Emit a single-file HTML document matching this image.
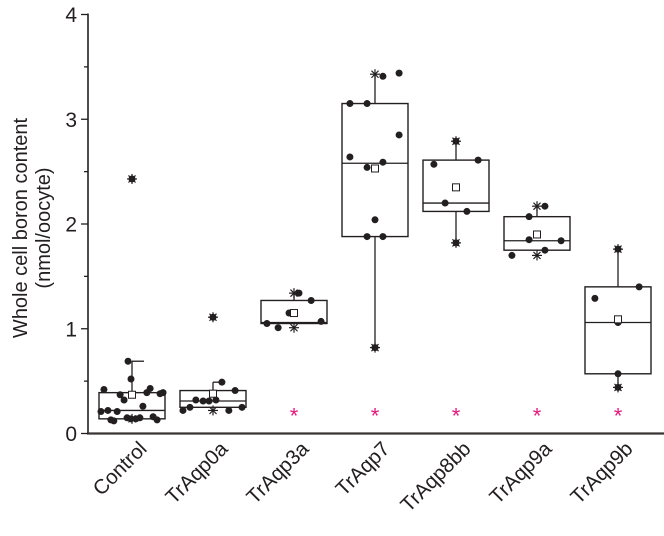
<!DOCTYPE html>
<html><head><meta charset="utf-8"><style>
html,body{margin:0;padding:0;background:#fff;width:664px;height:536px;overflow:hidden}
svg text{font-family:"Liberation Sans",Arial,sans-serif;fill:#231f20}
</style></head><body>
<svg id="chart" width="664" height="536" viewBox="0 0 664 536" xmlns="http://www.w3.org/2000/svg">
<g id="axes"></g>
<g id="plot"></g>
<text transform="translate(27,228) rotate(-90)" text-anchor="middle" font-size="20">Whole cell boron content</text>
<text transform="translate(50,228) rotate(-90)" text-anchor="middle" font-size="20">(nmol/oocyte)</text>
</svg>
<script>
const categories = ["Control","TrAqp0a","TrAqp3a","TrAqp7","TrAqp8bb","TrAqp9a","TrAqp9b"];
const q1 = [0.14,0.25,1.05,1.88,2.12,1.75,0.57];
const median = [0.22,0.31,1.06,2.58,2.20,1.84,1.06];
const q3 = [0.39,0.41,1.27,3.15,2.61,2.07,1.40];
const whiskerLow = [0.14,0.25,1.05,0.82,1.82,1.75,0.44];
const whiskerHigh = [0.69,0.49,1.34,3.43,2.79,2.17,1.76];
const means = [0.37,0.38,1.15,2.53,2.35,1.90,1.09];
const minMarks = [0.14,0.22,1.01,0.82,1.82,1.70,0.44];
const maxMarks = [2.43,1.11,1.34,3.43,2.79,2.17,1.76];
const significant = [false,false,true,true,true,true,true];
const pointValues = [
 [0.42,0.69,0.52,0.37,0.32,0.39,0.43,0.38,0.39,0.26,0.21,0.22,0.21,0.13,0.12,0.15,0.14,0.14,0.15,0.16,0.13,2.43],
 [0.49,0.41,0.32,0.31,0.31,0.32,0.22,0.25,0.22,0.25,1.11],
 [1.34,1.27,1.15,1.05,1.01,1.07],
 [3.41,3.44,3.15,3.15,2.85,2.64,2.54,2.59,2.04,1.88,1.88,0.82],
 [2.57,2.61,2.20,2.12,2.79,1.82],
 [2.17,2.07,1.85,1.84,1.75,1.70],
 [1.29,1.40,1.06,0.57,1.76,0.44]
];
const pointJitter = [
 [-0.85,-0.12,-0.03,-0.36,-0.24,0.45,0.55,0.85,0.94,0.33,-0.94,-0.73,-0.45,-0.64,-0.55,-0.15,-0.03,0.12,0.24,0.64,0.76,0],
 [0.27,0.67,-0.52,-0.3,-0.12,0.09,-0.91,-0.7,0.48,0.88,0],
 [0.15,0.52,-0.15,-0.82,-0.48,0.82],
 [0.24,0.73,-0.76,-0.24,0.73,-0.76,-0.24,0.24,0,-0.24,0.24,0],
 [-0.67,0.67,-0.33,0.33,0,0],
 [0.24,-0.24,-0.24,0.73,0.24,-0.76],
 [-0.7,0.64,0,0,0,0]
];
const yTicks = [0,1,2,3,4];

const NS="http://www.w3.org/2000/svg";
const X0=132, DX=81, HALF=33, Y0=433.5, SY=104.75;
const xScale = i => X0 + i*DX;
const yScale = v => Y0 - v*SY;
const col="#231f20";
function mk(tag, attrs, parent){const e=document.createElementNS(NS,tag);for(const k in attrs)e.setAttribute(k,attrs[k]);parent.appendChild(e);return e;}
const axes=document.getElementById('axes'), plot=document.getElementById('plot');

let el = mk('line',{x1:88,y1:yScale(4)-1,x2:88,y2:Y0+1,stroke:col,'stroke-width':1.6},axes);


el = mk('line',{x1:87,y1:Y0,x2:664,y2:Y0,stroke:"#3a3535",'stroke-width':2.2},axes);


for(let v=0; v<=8; v++){
  const t=v/2, major=(v%2===0);
  el = mk('line',{x1:major?81:84,y1:yScale(t),x2:88,y2:yScale(t),stroke:col,'stroke-width':1.3},axes);
  
  
}
yTicks.forEach(t=>{
  el = mk('text',{x:77,y:yScale(t)+7.5,'text-anchor':'end','font-size':21},axes);
  el.textContent=t;
  
  
});
categories.forEach((c,i)=>{
  const x=xScale(i)+16, y=450;
  el = mk('text',{x:x,y:y,'text-anchor':'end','font-size':20.5,transform:`rotate(-45 ${x} ${y})`},axes);
  el.textContent=c;
  
  
});

function star(g,x,y,r,color,w){
  for(let a=0;a<4;a++){const ang=a*Math.PI/4;
    mk('line',{x1:x-r*Math.cos(ang),y1:y-r*Math.sin(ang),x2:x+r*Math.cos(ang),y2:y+r*Math.sin(ang),stroke:color,'stroke-width':w},g);}
}
categories.forEach((c,i)=>{
  const g=mk('g',{},plot);
  
  
  const x=xScale(i);
  mk('line',{x1:x,y1:yScale(whiskerHigh[i]),x2:x,y2:yScale(q3[i]),stroke:col,'stroke-width':1.3},g);
  mk('line',{x1:x,y1:yScale(whiskerLow[i]),x2:x,y2:yScale(q1[i]),stroke:col,'stroke-width':1.3},g);
  if(i<2) mk('line',{x1:x,y1:yScale(whiskerHigh[i]),x2:x+12,y2:yScale(whiskerHigh[i]),stroke:col,'stroke-width':1.3},g);
  mk('rect',{x:x-HALF,y:yScale(q3[i]),width:2*HALF,height:yScale(q1[i])-yScale(q3[i]),fill:'none',stroke:col,'stroke-width':1.4},g);
  mk('line',{x1:x-HALF,y1:yScale(median[i]),x2:x+HALF,y2:yScale(median[i]),stroke:col,'stroke-width':1.3},g);
  pointValues[i].forEach((v,j)=>{
    const p=mk('circle',{cx:x+pointJitter[i][j]*HALF,cy:yScale(v),r:3.5,fill:col},g);
    
    
  });
  star(g,x,yScale(minMarks[i]),5,col,1.2);
  star(g,x,yScale(maxMarks[i]),5,col,1.2);
  const m=mk('rect',{x:x-3.5,y:yScale(means[i])-3.5,width:7,height:7,fill:'#fff',stroke:col,'stroke-width':1},g);
  
  
  if(significant[i]){
    const s=mk('text',{x:x,y:Y0-10,'text-anchor':'middle','font-size':22,style:'fill:#e6197e'},g);
    s.textContent='*';
    
    
  }
});
</script>
</body></html>
